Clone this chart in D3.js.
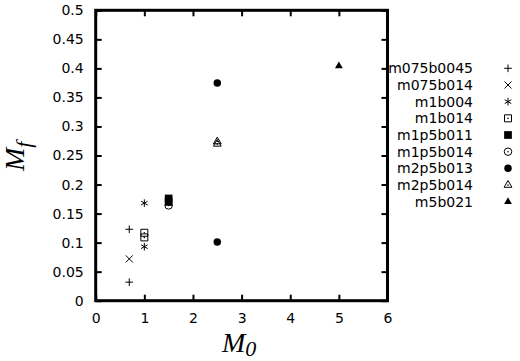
<!DOCTYPE html>
<html>
<head>
<meta charset="utf-8">
<script src="https://cdn.jsdelivr.net/npm/d3@7"></script>
<style>
    body { margin: 0; background: #fff; }
    svg { display: block; }
    .tick text, .legend text { font-family: "DejaVu Sans", sans-serif; font-size: 14px; fill: #000; }
    .axis path.domain { display: none; }
    .axis line { stroke: #000; stroke-width: 2; }
    .frame { fill: none; stroke: #000; stroke-width: 3; }
    .title { font-family: "Liberation Serif", "Times New Roman", serif; font-style: italic; fill: #000; }
</style>
</head>
<body>
<svg id="chart" width="520" height="361"></svg>
<script>
// series names, in plot / legend order
const seriesNames = ["m075b0045", "m075b014", "m1b004", "m1b014", "m1p5b011",
                     "m1p5b014", "m2p5b013", "m2p5b014", "m5b021"];
// M0 values (x) per series
const m0Values = [[0.69, 0.69], [0.69], [1.0, 1.0], [1.0, 1.0], [1.5, 1.5],
                  [1.5], [2.5, 2.5], [2.5, 2.5], [5.0]];
// Mf values (y) per series
const mfValues = [[0.123, 0.032], [0.072], [0.168, 0.093], [0.117, 0.109], [0.176, 0.170],
                  [0.164], [0.375, 0.101], [0.274, 0.270], [0.404]];
const xTicks = [0, 1, 2, 3, 4, 5, 6];
const yTicks = [0, 0.05, 0.1, 0.15, 0.2, 0.25, 0.3, 0.35, 0.4, 0.45, 0.5];

// point styles (gnuplot-ish point types)
const pointStyles = [
    {type: d3.symbolPlus, size: 21, filled: false},
    {type: d3.symbolTimes, size: 34, filled: false},
    {type: d3.symbolAsterisk, size: 40, filled: false},
    {type: d3.symbolSquare2, size: 62, filled: false, dot: true},
    {type: d3.symbolSquare, size: 60, filled: true},
    {type: d3.symbolCircle, size: 44, filled: false, dot: true},
    {type: d3.symbolCircle, size: 44, filled: true},
    {type: d3.symbolTriangle2, size: 44, filled: false, dot: true},
    {type: d3.symbolTriangle2, size: 44, filled: true}
];

const margin = {top: 10.3, right: 132.5, bottom: 60.3, left: 95.7};
const width = 520 - margin.left - margin.right;
const height = 361 - margin.top - margin.bottom;

const svg = d3.select("#chart");
const chart = svg.append("g").attr("transform", "translate(" + margin.left + "," + margin.top + ")");

const xScale = d3.scaleLinear().domain([0, 6]).range([0, width]);
const yScale = d3.scaleLinear().domain([0, 0.5]).range([height, 0]);
const fmt = d => String(+d.toFixed(2));

chart.append("g").attr("class", "x axis")
    .attr("transform", "translate(0," + height + ")")
    .call(d3.axisBottom(xScale).tickValues(xTicks).tickSize(-6).tickPadding(12).tickFormat(fmt));
chart.append("g").attr("class", "x axis")
    .call(d3.axisTop(xScale).tickValues(xTicks).tickSize(-6).tickFormat(""));
chart.append("g").attr("class", "y axis")
    .call(d3.axisLeft(yScale).tickValues(yTicks).tickSize(-6).tickPadding(12).tickFormat(fmt));
chart.append("g").attr("class", "y axis")
    .attr("transform", "translate(" + width + ",0)")
    .call(d3.axisRight(yScale).tickValues(yTicks).tickSize(-6).tickFormat(""));

chart.append("rect").attr("class", "frame")
    .attr("x", 0).attr("y", 0).attr("width", width).attr("height", height);

// axis titles
const xTitle = svg.append("text").attr("class", "title")
    .attr("x", 222).attr("y", 352).style("font-size", "28px");
xTitle.append("tspan").text("M");
xTitle.append("tspan").attr("dy", 4).style("font-size", "22px").text("0");

const yTitle = svg.append("text").attr("class", "title")
    .attr("transform", "translate(24,171) rotate(-90)").style("font-size", "28px");
yTitle.append("tspan").text("M");
yTitle.append("tspan").attr("dy", 7).style("font-size", "22px").text("f");

function drawSymbol(sel, style) {
    sel.append("path")
        .attr("d", d3.symbol().type(style.type).size(style.size))
        .attr("fill", style.filled ? "#000" : "none")
        .attr("stroke", "#000")
        .attr("stroke-width", style.filled ? 0 : 1);
    if (style.dot) {
        sel.append("circle").attr("r", 0.8).attr("fill", "#000");
    }
}

// points
seriesNames.forEach((name, i) => {
    const pts = m0Values[i].map((m0, j) => ({m0: m0, mf: mfValues[i][j]}));
    chart.selectAll("g.pt.s" + i).data(pts).enter()
        .append("g").attr("class", "pt s" + i)
        .attr("transform", d => "translate(" + xScale(d.m0) + "," + yScale(d.mf) + ")")
        .each(function() { drawSymbol(d3.select(this), pointStyles[i]); });
});

// legend
const legendY = d3.scalePoint().domain(seriesNames).range([68.3, 201.7]);
const legend = svg.append("g").attr("class", "legend");
const rows = legend.selectAll("g.row").data(seriesNames).enter()
    .append("g").attr("class", "row")
    .attr("transform", d => "translate(0," + legendY(d) + ")");
rows.append("text")
    .attr("x", 473).attr("dy", "0.35em")
    .attr("text-anchor", "end")
    .text(d => d);
rows.append("g").attr("transform", "translate(508,0)")
    .each(function(d, i) { drawSymbol(d3.select(this), pointStyles[i]); });
</script>
</body>
</html>
